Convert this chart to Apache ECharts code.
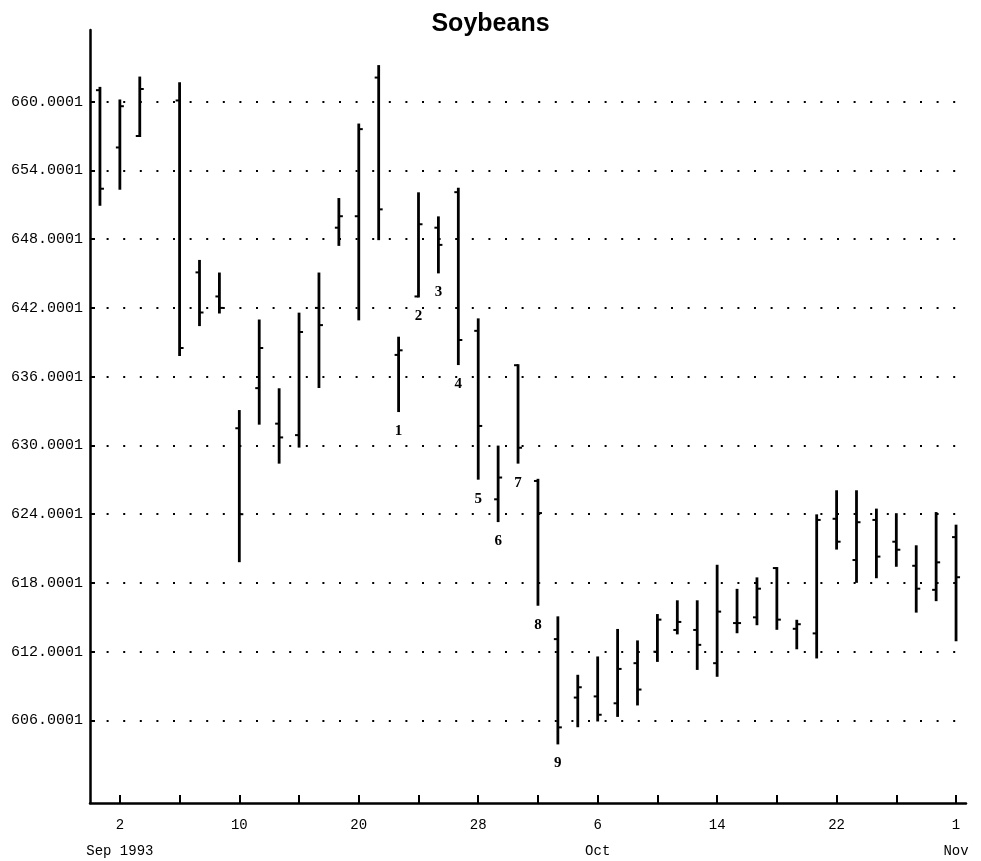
<!DOCTYPE html>
<html>
<head>
<meta charset="utf-8">
<script src="https://cdn.jsdelivr.net/npm/echarts@6/dist/echarts.min.js"></script>
<style>
html,body{margin:0;padding:0;background:#fff;}
#chart{width:981px;height:861px;}
</style>
</head>
<body>
<div id="chart"></div>
<script>
// Weekday categories (Sep 6 = Labor Day, no trading)
const dates = [
  '1993-09-01','1993-09-02','1993-09-03','1993-09-06','1993-09-07','1993-09-08','1993-09-09','1993-09-10',
  '1993-09-13','1993-09-14','1993-09-15','1993-09-16','1993-09-17','1993-09-20','1993-09-21','1993-09-22',
  '1993-09-23','1993-09-24','1993-09-27','1993-09-28','1993-09-29','1993-09-30','1993-10-01','1993-10-04',
  '1993-10-05','1993-10-06','1993-10-07','1993-10-08','1993-10-11','1993-10-12','1993-10-13','1993-10-14',
  '1993-10-15','1993-10-18','1993-10-19','1993-10-20','1993-10-21','1993-10-22','1993-10-25','1993-10-26',
  '1993-10-27','1993-10-28','1993-10-29','1993-11-01'
];
const openVals = [661.0,656.0,657.0,null,660.1,645.1,643.0,631.5,635.0,631.9,630.9,642.0,649.0,650.0,662.1,637.9,
  643.0,649.0,652.1,640.0,625.3,637.0,626.9,613.1,608.0,608.1,607.5,611.0,612.0,613.9,613.9,611.0,
  614.5,615.0,619.3,614.0,613.6,623.6,620.0,623.5,621.6,619.5,617.4,622.0];
const highVals = [661.2,660.1,662.1,null,661.6,646.1,645.0,633.0,640.9,634.9,641.5,645.0,651.5,658.0,663.1,639.4,
  652.0,649.9,652.4,641.0,629.9,637.0,627.0,615.0,609.9,611.5,613.9,612.9,615.2,616.4,616.4,619.5,
  617.4,618.4,619.3,614.7,623.9,626.0,626.0,624.4,624.0,621.2,624.1,623.0];
const lowVals = [651.0,652.4,657.0,null,637.9,640.5,641.6,619.9,631.9,628.5,629.9,635.1,647.5,641.0,648.0,633.0,
  643.0,645.1,637.1,627.1,623.4,628.5,616.1,604.0,605.5,606.0,606.4,607.4,611.2,613.6,610.5,609.9,
  613.7,614.4,614.0,612.3,611.5,621.0,618.1,618.5,619.5,615.5,616.5,613.0];
const closeVals = [652.4,659.6,661.1,null,638.5,641.6,642.0,624.0,638.5,630.7,639.9,640.5,650.0,657.6,650.6,638.3,
  649.3,647.5,639.2,631.7,627.2,629.8,624.1,605.4,608.9,606.5,610.5,608.7,614.8,614.6,612.6,615.5,
  614.5,617.5,614.8,614.4,623.5,621.6,623.3,620.3,620.9,617.5,619.8,618.5];
const notes = ['','','','','','','','','','','','','','','','1','2','3','4','5','6','7','8','9',
  '','','','','','','','','','','','','','','','','','','',''];

const yTicks = [606.0001,612.0001,618.0001,624.0001,630.0001,636.0001,642.0001,648.0001,654.0001,660.0001];
const xLabelDates = ['1993-09-02','1993-09-10','1993-09-20','1993-09-28','1993-10-06','1993-10-14','1993-10-22','1993-11-01'];
const xLabelTexts = ['2\nSep 1993','10','20','28','6\nOct','14','22','1\nNov'];
const titleText = 'Soybeans';

const data = dates.map((d, i) => [i, openVals[i], highVals[i], lowVals[i], closeVals[i]]);

const chart = echarts.init(document.getElementById('chart'), null, {renderer: 'canvas'});
chart.setOption({
  animation: false,
  backgroundColor: '#fff',
  title: {
    text: titleText, left: 'center', top: 7,
    textStyle: {fontFamily: 'Liberation Sans', fontWeight: 'bold', fontSize: 25, color: '#000'}
  },
  grid: {left: 90, right: 15, top: 30, bottom: 58, containLabel: false, outerBoundsMode: 'none'},
  xAxis: {
    type: 'category',
    data: dates,
    boundaryGap: true,
    axisLine: {show: true, lineStyle: {color: '#000', width: 2.5}},
    axisTick: {
      show: true, inside: true, length: 8, alignWithLabel: true,
      interval: (idx) => (idx - 1) % 3 === 0,
      lineStyle: {color: '#000', width: 2}
    },
    axisLabel: {
      interval: (idx, val) => xLabelDates.indexOf(val) >= 0,
      formatter: (val) => { const k = xLabelDates.indexOf(val); return k >= 0 ? xLabelTexts[k] : ''; },
      fontFamily: 'Liberation Mono', fontSize: 14, color: '#000', lineHeight: 26, margin: 9
    },
    splitLine: {show: false}
  },
  yAxis: {
    type: 'value',
    min: 598.8, max: 666.25,
    axisLine: {show: true, lineStyle: {color: '#000', width: 2.5}},
    axisTick: {show: true, inside: true, length: 5, customValues: yTicks, lineStyle: {color: '#000', width: 2}},
    axisLabel: {
      customValues: yTicks,
      formatter: (v) => Number(v).toFixed(4),
      fontFamily: 'Liberation Mono', fontSize: 15, color: '#000', margin: 7
    },
    splitLine: {show: true, lineStyle: {color: '#000', width: 2, type: [2, 14.6]}}
  },
  series: [{
    type: 'custom',
    data: data,
    encode: {x: 0, y: [1, 2, 3, 4]},
    renderItem: function (params, api) {
      const i = params.dataIndex;
      if (highVals[i] == null) return;
      const idx = api.value(0);
      const pH = api.coord([idx, highVals[i]]);
      const pL = api.coord([idx, lowVals[i]]);
      const pO = api.coord([idx, openVals[i]]);
      const pC = api.coord([idx, closeVals[i]]);
      const children = [
        {type: 'line', shape: {x1: pH[0], y1: pH[1] - 1, x2: pL[0], y2: pL[1] + 1}, style: {stroke: '#000', lineWidth: 2.8}},
        {type: 'line', shape: {x1: pO[0] - 4, y1: pO[1], x2: pO[0], y2: pO[1]}, style: {stroke: '#000', lineWidth: 2}},
        {type: 'line', shape: {x1: pC[0], y1: pC[1], x2: pC[0] + 4, y2: pC[1]}, style: {stroke: '#000', lineWidth: 2}}
      ];
      if (notes[i]) {
        children.push({
          type: 'text', x: pL[0], y: pL[1] + 20,
          style: {text: notes[i], fill: '#000', font: 'bold 15px "Liberation Serif"', align: 'center', verticalAlign: 'middle'}
        });
      }
      return {type: 'group', children: children};
    }
  }]
});
</script>
</body>
</html>
